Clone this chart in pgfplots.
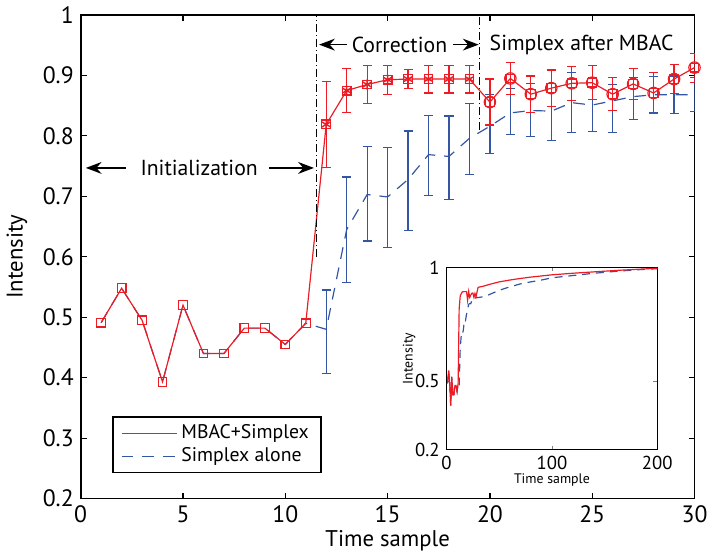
\documentclass[border=0pt]{standalone}
\usepackage{fontspec}
\setmainfont{PT Sans}
\usepackage{pgfplots}
\pgfplotsset{compat=1.18}
\usepackage{pgfplotstable}
\usetikzlibrary{arrows.meta}

\definecolor{mred}{RGB}{237,28,36}
\definecolor{mblue}{RGB}{52,84,164}

% mean intensity, MBAC+Simplex
\pgfplotstableread{
x y
1 0.491
2 0.548
3 0.495
4 0.393
5 0.520
6 0.440
7 0.440
8 0.482
9 0.482
10 0.455
11 0.490
12 0.819
13 0.875
14 0.885
15 0.893
16 0.894
17 0.894
18 0.894
19 0.894
20 0.856
21 0.895
22 0.869
23 0.879
24 0.887
25 0.888
26 0.869
27 0.886
28 0.871
29 0.894
30 0.913
}\redmean

% correction phase (stars)
\pgfplotstableread{
x y e
12 0.819 0.071
13 0.875 0.036
14 0.885 0.032
15 0.893 0.024
16 0.894 0.016
17 0.894 0.023
18 0.894 0.023
19 0.894 0.023
}\redstar

% simplex after MBAC (circles)
\pgfplotstableread{
x y e
20 0.856 0.038
21 0.895 0.026
22 0.869 0.030
23 0.879 0.030
24 0.887 0.028
25 0.888 0.028
26 0.869 0.027
27 0.886 0.026
28 0.871 0.034
29 0.894 0.024
30 0.913 0.024
}\redcirc

% simplex alone
\pgfplotstableread{
x y
1 0.491
2 0.548
3 0.495
4 0.393
5 0.520
6 0.440
7 0.440
8 0.482
9 0.482
10 0.455
11 0.490
12 0.480
13 0.645
14 0.703
15 0.699
16 0.728
17 0.769
18 0.766
19 0.796
20 0.816
21 0.838
22 0.842
23 0.841
24 0.855
25 0.851
26 0.858
27 0.865
28 0.868
29 0.868
30 0.868
}\bluemean

\pgfplotstableread{
x y e
12 0.476 0.069
13 0.645 0.087
14 0.704 0.078
15 0.698 0.083
16 0.726 0.082
17 0.768 0.066
18 0.764 0.069
19 0.795 0.059
20 0.820 0.049
21 0.840 0.038
22 0.843 0.044
23 0.840 0.047
24 0.855 0.050
25 0.852 0.045
26 0.845 0.040
27 0.862 0.035
28 0.868 0.030
29 0.868 0.031
30 0.868 0.028
}\blueerr

% long runs for the inset
\pgfplotstableread{
x y
1 0.491
2 0.548
3 0.495
4 0.393
5 0.520
6 0.440
7 0.440
8 0.482
9 0.482
10 0.455
11 0.490
12 0.819
13 0.875
14 0.885
15 0.893
16 0.894
17 0.894
18 0.894
19 0.894
20 0.856
21 0.895
22 0.869
23 0.879
24 0.887
25 0.888
26 0.869
27 0.886
28 0.871
29 0.894
30 0.913
35 0.918
40 0.925
45 0.931
50 0.937
60 0.945
70 0.952
80 0.958
90 0.963
100 0.968
120 0.975
140 0.981
160 0.987
180 0.992
200 0.997
}\redlong

\pgfplotstableread{
x y
1 0.491
2 0.548
3 0.495
4 0.393
5 0.520
6 0.440
7 0.440
8 0.482
9 0.482
10 0.455
11 0.490
12 0.480
13 0.645
14 0.703
15 0.699
16 0.728
17 0.769
18 0.766
19 0.796
20 0.816
21 0.838
22 0.842
23 0.841
24 0.855
25 0.851
26 0.858
27 0.865
28 0.868
29 0.868
30 0.868
35 0.872
40 0.880
50 0.900
60 0.915
70 0.928
80 0.937
90 0.945
100 0.955
120 0.965
140 0.975
160 0.983
180 0.990
200 0.995
}\bluelong

\begin{document}
\begin{tikzpicture}
\begin{axis}[
  name=main,
  scale only axis,
  width=311pt, height=245pt,
  xmin=0, xmax=30, ymin=0.2, ymax=1,
  xtick={0,5,10,15,20,25,30},
  ytick={0.2,0.3,0.4,0.5,0.6,0.7,0.8,0.9,1},
  axis line style={line width=0.9pt},
  major tick style={line width=0.6pt, black},
  major tick length=3pt,
  /pgf/number format/assume math mode=true,
  ticklabel style={font=\fontsize{12}{14}\selectfont},
  label style={font=\fontsize{11.5}{13}\selectfont},
  xlabel={Time sample},
  ylabel={Intensity},
  xlabel style={yshift=3pt},
  ylabel style={yshift=1pt},
  legend style={at={(0.0514,0.171)}, anchor=north west,
    draw=black, line width=0.9pt, font=\fontsize{10}{12}\selectfont,
    inner xsep=4pt, inner ysep=2pt, row sep=-1pt},
  legend cell align=left,
  legend image code/.code={\draw[#1, line width=0.6pt] (0pt,0pt) -- (28pt,0pt);},
]
\addlegendimage{mred}
\addlegendentry{MBAC+Simplex}
\addlegendimage{mblue, dash pattern=on 6pt off 4.5pt}
\addlegendentry{Simplex alone}

% simplex alone
\addplot[mblue, line width=0.6pt, dash pattern=on 6pt off 4.5pt, forget plot] table {\bluemean};
\addplot[mblue, only marks, mark=*, mark size=0pt, mark options={draw=none, fill=none}, forget plot,
  error bars/.cd, y dir=both, y explicit,
  error bar style={line width=0.6pt, solid, draw=mblue},
  error mark options={rotate=90, mark size=2.3pt, line width=0.6pt, draw=mblue}]
  table[x=x, y=y, y error=e] {\blueerr};

% MBAC + simplex
\addplot[mred, line width=0.6pt, forget plot] table {\redmean};
\addplot[mred, only marks, mark=square, mark size=2.2pt, mark options={line width=0.6pt}, forget plot]
  table {\redmean};
\addplot[mred, only marks, mark=asterisk, mark size=2.6pt, mark options={line width=0.7pt}, forget plot,
  error bars/.cd, y dir=both, y explicit,
  error bar style={line width=0.6pt},
  error mark options={rotate=90, mark size=2.3pt, line width=0.6pt}]
  table[x=x, y=y, y error=e] {\redstar};
\addplot[mred, only marks, mark=o, mark size=2.9pt, mark options={line width=0.6pt}, forget plot,
  error bars/.cd, y dir=both, y explicit,
  error bar style={line width=0.6pt},
  error mark options={rotate=90, mark size=2.3pt, line width=0.6pt}]
  table[x=x, y=y, y error=e] {\redcirc};

% phase separators
\draw[black, line width=0.7pt, dash pattern=on 4pt off 1.5pt on 0.6pt off 1.5pt]
  (axis cs:11.53,0.6) -- (axis cs:11.53,1);
\draw[black, line width=0.7pt, dash pattern=on 4pt off 1.5pt on 0.6pt off 1.5pt]
  (axis cs:19.5,0.81) -- (axis cs:19.5,1);

% annotations
\begin{scope}[font=\fontsize{11}{13}\selectfont, black]
\node at (axis cs:5.79,0.747) {Initialization};
\draw[line width=0.8pt, -{Stealth[length=8pt,width=6pt]}] (axis cs:2.2,0.747) -- (axis cs:0.25,0.747);
\draw[line width=0.8pt, -{Stealth[length=8pt,width=6pt]}] (axis cs:9.2,0.747) -- (axis cs:11.4,0.747);
\node at (axis cs:15.58,0.951) {Correction};
\draw[line width=0.8pt, -{Stealth[length=8pt,width=6pt]}] (axis cs:13.0,0.951) -- (axis cs:11.65,0.951);
\draw[line width=0.8pt, -{Stealth[length=8pt,width=6pt]}] (axis cs:18.2,0.951) -- (axis cs:19.45,0.951);
\node at (axis cs:24.48,0.951) {Simplex after MBAC};
\end{scope}
\end{axis}

\begin{axis}[
  at={(main.south west)}, xshift=185.35pt, yshift=24.85pt, anchor=south west,
  scale only axis,
  width=106.8pt, height=92.2pt,
  xmin=0, xmax=200, ymin=0.2, ymax=1,
  xtick={0,100,200}, ytick={0.2,0.5,1},
  axis background/.style={fill=white},
  axis line style={line width=0.6pt},
  major tick length=2pt,
  /pgf/number format/assume math mode=true,
  ticklabel style={font=\fontsize{9.5}{11}\selectfont},
  label style={font=\fontsize{7}{8}\selectfont},
  xlabel={Time sample},
  ylabel={Intensity},
  xlabel style={yshift=5pt},
  ylabel style={yshift=-7pt},
]
\addplot[mblue, line width=0.6pt, dash pattern=on 4pt off 3pt] table {\bluelong};
\addplot[mred, line width=0.6pt] table {\redlong};
\end{axis}
\end{tikzpicture}
\end{document}
